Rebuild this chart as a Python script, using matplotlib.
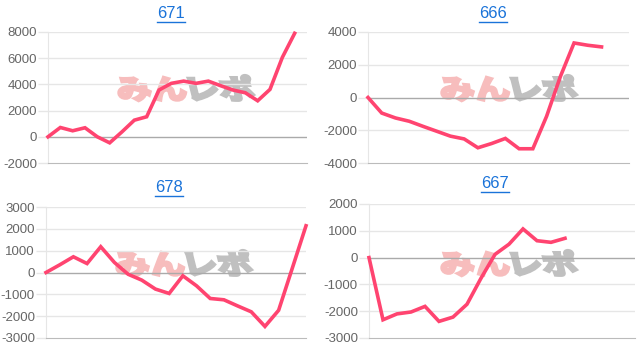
import matplotlib
matplotlib.use("Agg")
import matplotlib.pyplot as plt
from matplotlib.textpath import TextPath
from matplotlib.font_manager import FontProperties
from matplotlib.patches import PathPatch
from matplotlib.transforms import Affine2D

titles = ["671", "666", "678", "667"]

s671 = [0, 710, 460, 690, 0, -460, 380, 1270, 1530, 3570, 4080, 4250, 4080, 4250,
        3900, 3570, 3360, 2750, 3620, 6060, 7900]
s666 = [0, -950, -1250, -1450, -1760, -2060, -2360, -2530, -3070, -2810, -2500,
        -3130, -3130, -1150, 1270, 3330, 3190, 3090]
s678 = [0, 350, 720, 410, 1180, 460, -80, -350, -760, -960, -150, -610, -1190,
        -1250, -1530, -1800, -2470, -1730, 200, 2140]
s667 = [0, -2320, -2100, -2030, -1820, -2380, -2220, -1740, -770, 120, 500, 1070,
        630, 570, 720]

series = [s671, s666, s678, s667]
yticks = [
    [-2000, 0, 2000, 4000, 6000, 8000],
    [-4000, -2000, 0, 2000, 4000],
    [-3000, -2000, -1000, 0, 1000, 2000, 3000],
    [-3000, -2000, -1000, 0, 1000, 2000],
]
xmax = [21, 19, 19, 19]

W, H = 644, 351
rects_px = [
    (48, 307, 32, 163),
    (368, 629, 32, 163),
    (46, 306, 207, 338),
    (369, 635, 204, 338),
]
title_px = [(171, 14), (493, 14), (169, 188), (495, 184)]
wm_center = [(185, 89), (508, 89), (183, 264), (508, 264)]

fig = plt.figure(figsize=(W / 100, H / 100), dpi=100)
fig.patch.set_facecolor("white")

line_color = "#ff4470"
grid_color = "#e6e6e6"
zero_color = "#aaaaaa"
font = "Liberation Sans"

jp_bold = FontProperties(family="Noto Sans CJK JP", weight="bold")

for i in range(4):
    x0, x1, yt, yb = rects_px[i]
    ax = fig.add_axes([x0 / W, 1 - yb / H, (x1 - x0) / W, (yb - yt) / H])
    ticks = yticks[i]
    ax.set_ylim(ticks[0], ticks[-1])
    ax.set_xlim(0, xmax[i])
    ax.set_yticks(ticks)
    ax.set_yticklabels([str(t) for t in ticks], fontfamily=font)
    ax.set_xticks([])
    for t in ticks:
        if t == 0:
            ax.axhline(0, color=zero_color, lw=1.0, zorder=1)
        elif t != ticks[0]:
            ax.axhline(t, color=grid_color, lw=1.0, zorder=0)
    for sp in ["top", "right"]:
        ax.spines[sp].set_visible(False)
    ax.spines["left"].set_color(grid_color)
    ax.spines["bottom"].set_color("#bbbbbb")
    ax.tick_params(axis="y", length=7, width=1, color=grid_color, pad=1,
                   labelsize=9.5, labelcolor="#666666")

    # watermark
    cx, cyp = wm_center[i]
    cy = H - cyp
    fs = 27
    p1 = TextPath((0, 0), "みん", size=fs, prop=jp_bold)
    p2 = TextPath((0, 0), "レポ", size=fs, prop=jp_bold)
    sxs = 1.3
    b1 = p1.get_extents()
    b2 = p2.get_extents()
    w1 = b1.width * sxs
    w2 = b2.width * sxs
    gap = 6
    total = w1 + w2 + gap
    sx = cx - total / 2
    base = Affine2D().scale(sxs, 1.0).skew_deg(-14, 0)
    ymid = b1.y0 + b1.height / 2
    t1 = Affine2D().translate(-b1.x0, -ymid) + base + Affine2D().translate(sx, cy)
    t2 = Affine2D().translate(-b2.x0, -ymid) + base + Affine2D().translate(sx + w1 + gap, cy)
    fig.patches.append(PathPatch(t1.transform_path(p1), facecolor="#f7bdbd",
                                 edgecolor="#f7bdbd", lw=2.2, transform=None, zorder=2))
    fig.patches.append(PathPatch(t2.transform_path(p2), facecolor="#c0c0c0",
                                 edgecolor="#c0c0c0", lw=2.2, transform=None, zorder=2))

    ax.set_facecolor("none")
    ax.set_zorder(3)
    ax.plot(range(len(series[i])), series[i], color=line_color, lw=2.6,
            solid_joinstyle="miter", clip_on=False, zorder=4)

    tx, ty = title_px[i]
    fig.text(tx / W, 1 - ty / H, titles[i], ha="center", va="center",
             fontsize=12, color="#1a73d9", fontfamily=font)
    fig.add_artist(plt.Line2D([(tx - 14) / W, (tx + 14) / W],
                              [1 - (ty + 8) / H, 1 - (ty + 8) / H],
                              color="#1a73d9", lw=1.0))

fig.savefig("out.png", dpi=100, facecolor="white")
